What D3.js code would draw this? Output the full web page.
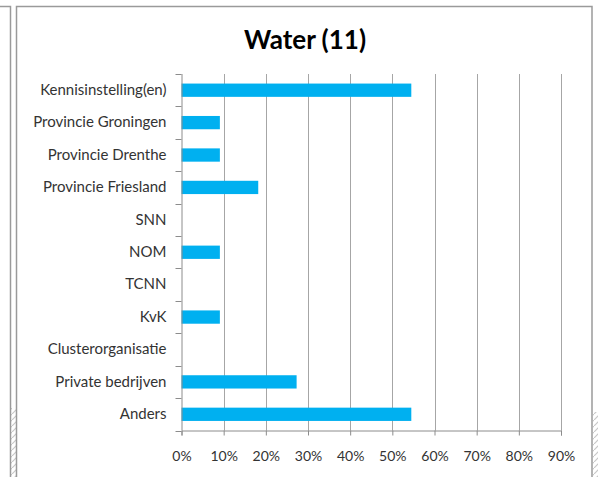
<!DOCTYPE html>
<html>
<head>
<meta charset="utf-8">
<script src="https://cdn.jsdelivr.net/npm/d3@7"></script>
<style>
  html, body { margin: 0; padding: 0; background: #fff; }
  svg { display: block; }
</style>
</head>
<body>
<svg id="chart" width="598" height="477"></svg>
<script>
const title = "Water (11)";
const categories = ["Kennisinstelling(en)", "Provincie Groningen", "Provincie Drenthe", "Provincie Friesland", "SNN", "NOM", "TCNN", "KvK", "Clusterorganisatie", "Private bedrijven", "Anders"];
const values = [0.545, 0.091, 0.091, 0.182, 0, 0.091, 0, 0.091, 0, 0.273, 0.545];
const xTicks = [0, 0.1, 0.2, 0.3, 0.4, 0.5, 0.6, 0.7, 0.8, 0.9];

const svg = d3.select("#chart");
const font = "Lato, 'Open Sans', sans-serif";

// hatch pattern
const defs = svg.append("defs");
const pat = defs.append("pattern").attr("id", "hatch").attr("patternUnits", "userSpaceOnUse")
  .attr("width", 6).attr("height", 6);
pat.append("path").attr("d", "M0,6 L6,0").attr("stroke", "#c8c8c8").attr("stroke-width", 1.2);

// frames (outer neighbours)
svg.append("rect").attr("x", 11).attr("y", 408).attr("width", 5).attr("height", 69).attr("fill", "url(#hatch)");
svg.append("rect").attr("x", 593).attr("y", 412).attr("width", 5).attr("height", 65).attr("fill", "url(#hatch)");
svg.append("path").attr("d", "M0,6.5 H10.5 V477").attr("fill", "none").attr("stroke", "#9a9a9a").attr("stroke-width", 1.5);
svg.append("path").attr("d", "M16.5,477 V6.5 H592 V477").attr("fill", "none").attr("stroke", "#9a9a9a").attr("stroke-width", 1.5);

const m = { left: 181.5, right: 561, top: 74, bottom: 430.5 };
const x = d3.scaleLinear().domain([0, 0.9]).range([m.left, m.right]);
const y = d3.scaleBand().domain(categories).range([m.top, m.bottom]).paddingInner(0.59).paddingOuter(0.295);
const yb = d3.scaleBand().domain(categories).range([m.top, m.bottom]);

// gridlines
svg.append("g").selectAll("line").data(xTicks.slice(1)).join("line")
  .attr("x1", d => Math.round(x(d)) + 0.5).attr("x2", d => Math.round(x(d)) + 0.5)
  .attr("y1", m.top).attr("y2", m.bottom)
  .attr("stroke", "#a6a6a6").attr("stroke-width", 1);

// bars
svg.append("g").selectAll("rect").data(categories).join("rect")
  .attr("x", x(0)).attr("y", (d) => y(d))
  .attr("width", (d, i) => x(values[i]) - x(0))
  .attr("height", y.bandwidth())
  .attr("fill", "#00B0F0");

// x axis
const xAxis = d3.axisBottom(x).tickValues(xTicks).tickFormat(d3.format(".0%")).tickSize(5).tickPadding(16);
const gx = svg.append("g").attr("transform", `translate(0,${m.bottom})`).call(xAxis);
gx.select(".domain").attr("stroke", "#8c8c8c");
gx.selectAll(".tick line").attr("stroke", "#8c8c8c");
gx.selectAll("text").attr("font-family", font).attr("font-size", 14).attr("fill", "#333");

// y axis
const yAxis = d3.axisLeft(yb).tickSize(0).tickPadding(15);
const gy = svg.append("g").attr("transform", `translate(${m.left},0)`).call(yAxis);
gy.select(".domain").attr("stroke", "#8c8c8c").attr("d", `M0.5,${m.top}V${m.bottom}`);
gy.selectAll("text").attr("font-family", font).attr("font-size", 15).attr("fill", "#333");
// category boundary ticks
const bounds = categories.map(c => yb(c)).concat([m.bottom]);
svg.append("g").selectAll("line").data(bounds).join("line")
  .attr("x1", m.left - 6).attr("x2", m.left)
  .attr("y1", d => Math.round(d) + 0.5).attr("y2", d => Math.round(d) + 0.5)
  .attr("stroke", "#8c8c8c");

// title
svg.append("text").attr("x", 305).attr("y", 49).attr("text-anchor", "middle")
  .attr("font-family", font).attr("font-weight", "bold").attr("font-size", 26)
  .attr("fill", "#000").text(title);
</script>
</body>
</html>
